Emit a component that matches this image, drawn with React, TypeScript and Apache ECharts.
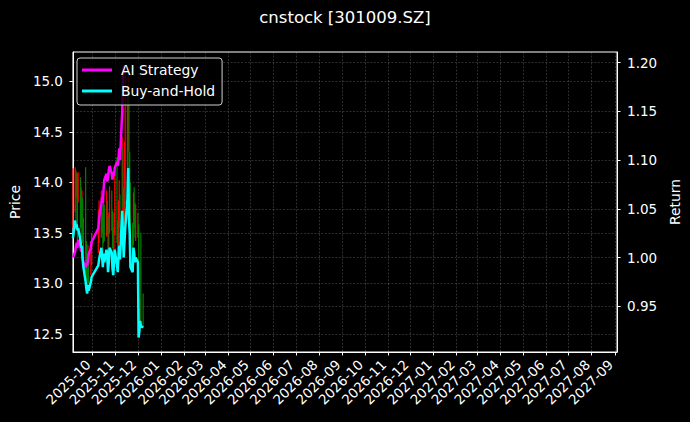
import React, { useEffect, useRef } from "react";
import * as echarts from "echarts";

const titleText = "cnstock [301009.SZ]";
const axisStart = "2025-09-05";
const axisEnd = "2027-09-04";

const tradeDates = [
  "2025-09-05", "2025-09-08", "2025-09-09", "2025-09-10", "2025-09-11", "2025-09-12",
  "2025-09-15", "2025-09-16", "2025-09-17", "2025-09-18", "2025-09-19", "2025-09-22",
  "2025-09-23", "2025-09-24", "2025-09-25", "2025-09-26", "2025-09-29", "2025-09-30",
  "2025-10-09", "2025-10-10", "2025-10-13", "2025-10-14", "2025-10-15", "2025-10-16",
  "2025-10-17", "2025-10-20", "2025-10-21", "2025-10-22", "2025-10-23", "2025-10-24",
  "2025-10-27", "2025-10-28", "2025-10-29", "2025-10-30", "2025-10-31",
  "2025-11-03", "2025-11-04", "2025-11-05", "2025-11-06", "2025-11-07", "2025-11-10",
  "2025-11-11", "2025-11-12", "2025-11-13", "2025-11-14", "2025-11-17", "2025-11-18",
  "2025-11-19", "2025-11-20", "2025-11-21", "2025-11-24", "2025-11-25", "2025-11-26",
  "2025-11-27", "2025-11-28",
  "2025-12-01", "2025-12-02", "2025-12-03", "2025-12-04", "2025-12-05", "2025-12-08",
];

const openP = [
  13.62, 13.90, 14.10, 13.98, 14.05, 13.96, 14.02, 13.86, 13.70, 13.78, 13.58, 13.48,
  13.28, 13.15, 13.08, 13.24, 13.12, 13.24,
  13.36, 13.50, 13.55, 13.76, 13.62, 13.44, 13.66, 13.52, 13.72, 13.58, 13.40, 13.55,
  13.76, 13.66, 13.42, 13.35, 13.55,
  13.72, 13.48, 13.40, 13.62, 13.76, 13.58, 14.22, 13.85, 13.62, 13.82, 14.05, 14.45,
  14.82, 14.12, 13.92, 13.48, 13.42, 13.75, 13.66, 13.50,
  13.62, 13.52, 12.50, 12.60, 12.75, 12.68,
];
const closeP = [
  13.87, 14.12, 14.01, 14.06, 13.98, 14.01, 13.84, 13.74, 13.76, 13.57, 13.46, 13.26,
  13.16, 13.10, 13.22, 13.14, 13.26, 13.33,
  13.49, 13.57, 13.74, 13.63, 13.46, 13.65, 13.53, 13.71, 13.60, 13.40, 13.53, 13.74,
  13.67, 13.44, 13.36, 13.53, 13.71,
  13.49, 13.40, 13.60, 13.76, 13.57, 14.25, 13.87, 13.60, 13.80, 14.01, 14.42, 14.85,
  14.14, 13.94, 13.46, 13.40, 13.74, 13.67, 13.53, 13.60,
  13.53, 12.48, 12.58, 12.72, 12.65, 12.62,
];
const lowP = [
  13.55, 13.70, 13.62, 13.85, 13.40, 13.80, 13.55, 13.45, 13.55, 13.40, 13.30, 13.10,
  13.02, 12.98, 13.02, 13.00, 13.08, 13.18,
  13.30, 13.40, 13.45, 13.50, 13.30, 13.40, 13.42, 13.46, 13.48, 13.30, 13.35, 13.50,
  13.52, 13.35, 13.22, 13.30, 13.48,
  13.40, 13.28, 13.35, 13.55, 13.45, 13.55, 13.75, 13.52, 13.58, 13.78, 13.95, 14.30,
  13.60, 13.85, 13.40, 13.25, 13.38, 13.55, 13.45, 13.42,
  13.45, 12.46, 12.46, 12.55, 12.60, 12.56,
];
const highP = [
  14.14, 14.15, 14.12, 14.10, 14.08, 14.10, 14.05, 13.95, 13.92, 13.85, 13.65, 14.15,
  13.42, 13.30, 13.38, 13.32, 13.42, 13.50,
  13.72, 13.82, 13.92, 13.88, 13.70, 13.85, 13.78, 13.92, 13.82, 13.66, 13.70, 13.96,
  13.92, 13.72, 13.55, 13.70, 14.10,
  14.25, 13.62, 13.82, 14.02, 13.88, 14.45, 14.35, 13.95, 14.40, 15.15, 14.95, 15.05,
  14.90, 14.30, 14.00, 13.60, 13.90, 13.95, 13.80, 13.78,
  13.70, 13.58, 12.75, 12.85, 13.50, 12.90,
];

const aiStrategy = [
  1.000, 1.006, 1.012, 1.015, 1.010, 1.018, 1.012, 1.006, 1.008, 1.000, 0.995, 0.990,
  0.994, 0.992, 0.998, 1.003, 1.010, 1.016,
  1.030, 1.040, 1.055, 1.062, 1.056, 1.070, 1.080, 1.086, 1.078, 1.082, 1.090, 1.094,
  1.086, 1.080, 1.088, 1.084, 1.092,
  1.098, 1.094, 1.102, 1.112, 1.100, 1.150, 1.182, 1.197,
];
const buyHold = [
  1.020, 1.038, 1.030, 1.034, 1.028, 1.030, 1.018, 1.010, 1.012, 0.998, 0.990, 0.975,
  0.968, 0.963, 0.972, 0.966, 0.975, 0.980,
  0.992, 0.998, 1.010, 1.002, 0.990, 1.004, 0.995, 1.008, 1.000, 0.985, 0.995, 1.010,
  1.005, 0.988, 0.982, 0.995, 1.008,
  0.992, 0.985, 1.000, 1.012, 0.998, 1.048, 1.020, 1.000, 1.015, 1.030, 1.060, 1.092,
  1.040, 1.025, 0.990, 0.985, 1.010, 1.005, 0.995, 1.000,
  0.995, 0.918, 0.925, 0.935, 0.930, 0.928,
];

const priceTicks = [12.5, 13.0, 13.5, 14.0, 14.5, 15.0];
const returnTicks = [0.95, 1.0, 1.05, 1.1, 1.15, 1.2];

function buildDays(start: string, end: string): string[] {
  const out: string[] = [];
  const d = new Date(start + "T00:00:00Z");
  const e = new Date(end + "T00:00:00Z");
  while (d.getTime() <= e.getTime()) {
    out.push(d.toISOString().slice(0, 10));
    d.setUTCDate(d.getUTCDate() + 1);
  }
  return out;
}

const FONT = "DejaVu Sans";
const gridLine = { show: true, lineStyle: { color: "rgba(170,170,170,0.45)", width: 0.6, type: [2, 1.5] as any } };

export default function App() {
  const ref = useRef<HTMLDivElement>(null);
  useEffect(() => {
    if (!ref.current) return;
    const chart = echarts.init(ref.current, undefined, { renderer: "svg" });
    const days = buildDays(axisStart, axisEnd);
    const idx: Record<string, number> = {};
    days.forEach((d, i) => (idx[d] = i));
    const candles: any[] = days.map(() => "-");
    const ai: any[] = days.map(() => null);
    const bh: any[] = days.map(() => null);
    tradeDates.forEach((d, i) => {
      const k = idx[d];
      candles[k] = [openP[i], closeP[i], lowP[i], highP[i]];
      if (i < aiStrategy.length) ai[k] = aiStrategy[i];
      bh[k] = buyHold[i];
    });
    const isMonth = (_i: number, v: string) => typeof v === "string" && v.endsWith("-01");
    const near = (v: number, list: number[]) => list.some((t) => Math.abs(t - v) < 1e-6);

    chart.setOption({
      animation: false,
      backgroundColor: "#000",
      title: {
        text: titleText,
        left: "center",
        top: 9,
        padding: 0,
        textStyle: { color: "#fff", fontSize: 16.5, fontWeight: "normal", fontFamily: FONT },
      },
      legend: {
        data: ["AI Strategy", "Buy-and-Hold"],
        orient: "vertical",
        left: 77,
        top: 58,
        padding: [5, 7, 7, 5],
        itemGap: 7,
        itemWidth: 30,
        itemHeight: 3,
        icon: "rect",
        backgroundColor: "rgba(0,0,0,0.8)",
        borderColor: "#d0d0d0",
        borderWidth: 1,
        borderRadius: 3,
        textStyle: { color: "#fff", fontSize: 13.9, fontFamily: FONT, padding: [0, 0, 0, 4] },
      },
      grid: {
        left: 70,
        right: 69.4,
        top: 52,
        bottom: 70,
        show: true,
        borderColor: "#fff",
        borderWidth: 1,
        backgroundColor: "transparent",
      },
      xAxis: {
        type: "category",
        data: days,
        boundaryGap: false,
        axisLine: { show: true, lineStyle: { color: "#fff", width: 1 } },
        axisTick: { show: true, interval: isMonth, length: 3.5, lineStyle: { color: "#fff" } },
        axisLabel: {
          interval: isMonth,
          rotate: 45,
          margin: 6,
          padding: [0, 6, 0, 0],
          color: "#fff",
          fontSize: 13.5,
          fontFamily: FONT,
          formatter: (v: string) => v.slice(0, 7),
        },
        splitLine: { ...gridLine, interval: isMonth },
      },
      yAxis: [
        {
          type: "value",
          position: "left",
          min: 12.32,
          max: 15.29,
          name: "Price",
          nameLocation: "middle",
          nameRotate: 90,
          nameGap: 44,
          nameTextStyle: { color: "#fff", fontSize: 13.9, fontFamily: FONT },
          axisLine: { show: true, lineStyle: { color: "#fff" } },
          axisTick: { show: true, length: 3.5, lineStyle: { color: "#fff" }, customValues: priceTicks },
          axisLabel: {
            color: "#fff",
            fontSize: 13.5,
            fontFamily: FONT,
            margin: 10,
            customValues: priceTicks,
            formatter: (v: number) => (near(v, priceTicks) ? v.toFixed(1) : ""),
          },
          splitLine: gridLine,
        },
        {
          type: "value",
          position: "right",
          min: 0.903,
          max: 1.211,
          name: "Return",
          nameLocation: "middle",
          nameRotate: 90,
          nameGap: 43,
          nameTextStyle: { color: "#fff", fontSize: 13.9, fontFamily: FONT },
          axisLine: { show: true, lineStyle: { color: "#fff" } },
          axisTick: { show: true, length: 3.5, lineStyle: { color: "#fff" }, customValues: returnTicks },
          axisLabel: {
            color: "#fff",
            fontSize: 13.5,
            fontFamily: FONT,
            margin: 10,
            customValues: returnTicks,
            formatter: (v: number) => (near(v, returnTicks) ? v.toFixed(2) : ""),
          },
          splitLine: gridLine,
        },
      ],
      series: [
        {
          name: "Price",
          type: "candlestick",
          yAxisIndex: 0,
          data: candles,
          barWidth: 2,
          itemStyle: {
            color: "#ff0000",
            color0: "#008000",
            borderColor: "#ff0000",
            borderColor0: "#008000",
            borderWidth: 1.2,
          },
        },
        {
          name: "AI Strategy",
          type: "line",
          yAxisIndex: 1,
          data: ai,
          connectNulls: true,
          showSymbol: false,
          symbol: "none",
          color: "#ff00ff",
          lineStyle: { color: "#ff00ff", width: 2.5 },
        },
        {
          name: "Buy-and-Hold",
          type: "line",
          yAxisIndex: 1,
          data: bh,
          connectNulls: true,
          showSymbol: false,
          symbol: "none",
          color: "#00ffff",
          lineStyle: { color: "#00ffff", width: 2.5 },
        },
      ],
    });
    return () => chart.dispose();
  }, []);
  return (
    <div
      ref={ref}
      style={{ position: "fixed", left: 0, top: 0, width: 690, height: 422, background: "#000" }}
    />
  );
}
